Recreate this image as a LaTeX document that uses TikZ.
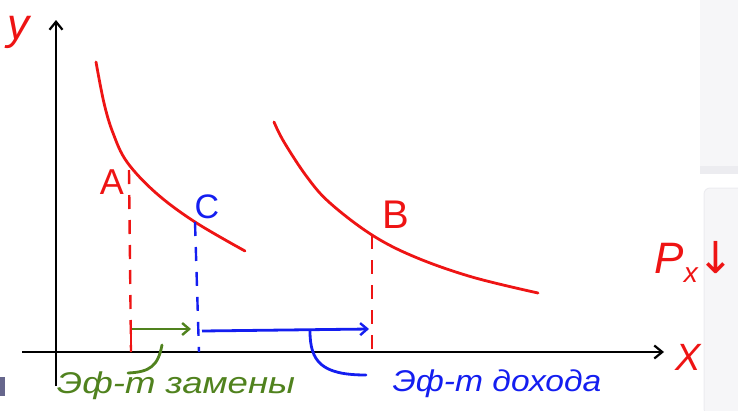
\documentclass[tikz,border=0pt]{standalone}
\usepackage{fontspec}
\setmainfont{Liberation Sans}
\newfontfamily\symfont{DejaVu Sans}
\usetikzlibrary{arrows.meta}
\definecolor{hred}{RGB}{238,20,20}
\definecolor{hblue}{RGB}{20,30,240}
\definecolor{hgreen}{RGB}{80,130,30}
\definecolor{panelgray}{RGB}{246,246,248}
\definecolor{paneledge}{RGB}{236,236,240}
\begin{document}
\begin{tikzpicture}[x=1pt,y=-1pt,
  axis/.style={black,line width=2.4pt,-{Straight Barb[length=8pt,width=13pt,line width=2.2pt]}},
  curve/.style={hred,line width=2.8pt,line cap=round},
  reddash/.style={hred,line width=2.4pt,dash pattern=on 14pt off 11pt},
  bluedash/.style={hblue,line width=2.4pt,dash pattern=on 14pt off 11pt},
  garrow/.style={hgreen,line width=2.8pt,-{Straight Barb[length=7pt,width=12pt,line width=2.4pt]}},
  barrow/.style={hblue,line width=2.8pt,-{Straight Barb[length=7pt,width=12pt,line width=2.4pt]}},
  hook/.style={line width=2.8pt,line cap=round},
  lbl/.style={inner sep=0pt,font=\itshape\fontsize{30}{30}\selectfont}
]
\useasboundingbox (0,0) rectangle (738,410);
% background screenshot panels
\fill[panelgray] (700,0) rectangle (738,172);
\fill[paneledge] (700,166) rectangle (738,174);
\fill[panelgray,draw=paneledge,line width=1pt,rounded corners=6pt] (704,188) rectangle (745,415);
\fill[black!75!blue!60] (0,377) rectangle (5,396);
% axes
\coordinate (O) at (56,352);
\coordinate (ytop) at (56,20);
\coordinate (ybot) at (56,386);
\coordinate (xleft) at (22,352);
\coordinate (xright) at (664,352);
\draw[black,line width=2.4pt] (ybot) -- (O);
\draw[axis] (O) -- (ytop);
\draw[axis] (xleft) -- (xright);
\node[lbl,text=hred,font=\itshape\fontsize{44}{44}\selectfont] (ylab) at (18,32) {y};
\node[lbl,text=hred,font=\itshape\fontsize{38}{38}\selectfont] (xlab) at (688,357) {X};
% curves
\coordinate (A) at (127,162);
\coordinate (C) at (195,222);
\coordinate (B) at (372,235);
\draw[curve] plot[smooth,tension=0.6] coordinates {(96,62) (104,103) (113,133) (A) (156,193) (C) (245,251)};
\draw[curve] plot[smooth,tension=0.6] coordinates {(274,122) (284,142) (307,177) (330,203) (B) (415,257) (472,277) (538,293)};
% point labels
\node[lbl,text=hred,font=\fontsize{36}{36}\selectfont] (Alab) at (112,182) {A};
\node[lbl,text=hblue,font=\fontsize{34}{34}\selectfont] (Clab) at (207,207) {C};
\node[lbl,text=hred,font=\fontsize{40}{40}\selectfont] (Blab) at (396,215) {B};
% dashed drops
\coordinate (Af) at (131,352);
\coordinate (Cf) at (199,352);
\coordinate (Bf) at (372,360);
\coordinate (At) at (129,170);
\draw[reddash] (At) -- (Af);
\draw[hred,line width=2.4pt] (131,330) -- (Af);
\draw[bluedash] (C) -- (Cf);
\draw[reddash] (B) -- (Bf);
% effect arrows
\coordinate (g0) at (132,329);
\coordinate (g1) at (191,329);
\coordinate (b0) at (202,331);
\coordinate (b1) at (369,329);
\draw[garrow] (g0) -- (g1);
\draw[barrow] (b0) -- (b1);
% labels for effects
\node[inner sep=0pt,text=hgreen,font=\itshape\fontsize{30}{30}\selectfont,xscale=1.22,transform shape] (sub) at (176,386) {Эф-т замены};
\node[inner sep=0pt,text=hblue,font=\itshape\fontsize{30}{30}\selectfont,xscale=1.12,transform shape] (inc) at (497,384) {Эф-т дохода};
\coordinate (gh0) at (162,345);
\coordinate (gh1) at (128,373);
\draw[hook,hgreen] (gh0) .. controls (158,366) and (150,372) .. (gh1);
\coordinate (bh0) at (310,331);
\coordinate (bh1) at (366,375);
\draw[hook,hblue] (bh0) .. controls (310,362) and (322,375) .. (bh1);
% P_x down
\node[inner sep=0pt,text=hred,font=\itshape\fontsize{44}{44}\selectfont,anchor=east] (px) at (735,262) {P\raisebox{-0.4ex}{\fontsize{28}{28}\selectfont x}{\symfont\upshape\fontsize{44}{44}\selectfont ↓}};
\end{tikzpicture}
\end{document}
